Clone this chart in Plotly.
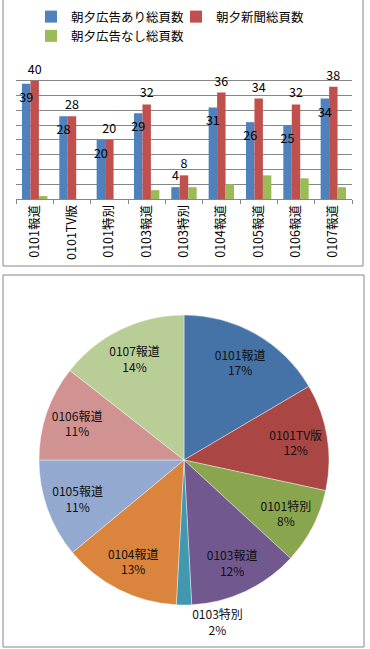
import plotly.graph_objects as go

# ---- data ----
categories = ["0101報道", "0101TV版", "0101特別", "0103報道", "0103特別",
              "0104報道", "0105報道", "0106報道", "0107報道"]
ads_pages = [39, 28, 20, 29, 4, 31, 26, 25, 34]        # 朝夕広告あり総頁数
total_pages = [40, 28, 20, 32, 8, 36, 34, 32, 38]      # 朝夕新聞総頁数
no_ads_pages = [1, 0, 0, 3, 4, 5, 8, 7, 4]             # 朝夕広告なし総頁数
series_names = ["朝夕広告あり総頁数", "朝夕新聞総頁数", "朝夕広告なし総頁数"]

bar_colors = ["#4F81BD", "#C0504D", "#9BBB59"]
pie_colors = ["#4572A7", "#AA4643", "#89A54E", "#71588F", "#4198AF",
              "#DB843D", "#93A9CF", "#D19392", "#B9CD96"]

W, H = 370, 649
FONT = "Noto Sans CJK JP"


def px_x(v):
    return v / W


def px_y(v):
    return 1 - v / H


fig = go.Figure()

fig.add_trace(go.Bar(
    x=categories, y=ads_pages, name=series_names[0], offsetgroup="a",
    marker=dict(color=bar_colors[0], line=dict(width=0)),
    xaxis="x", yaxis="y",
))
fig.add_trace(go.Bar(
    x=categories, y=total_pages, name=series_names[1], offsetgroup="b",
    marker=dict(color=bar_colors[1], line=dict(width=0)),
    text=total_pages, textposition="outside",
    textangle=0, textfont=dict(size=12.5, color="#000000"),
    cliponaxis=False, xaxis="x", yaxis="y",
))
fig.add_trace(go.Bar(
    x=categories, y=no_ads_pages, name=series_names[2], offsetgroup="c",
    marker=dict(color=bar_colors[2], line=dict(width=0)),
    xaxis="x", yaxis="y",
))

bar_label_pos = ["inside"] * len(categories)
bar_label_pos[4] = "outside"   # bar too short to hold its label

# labels of the first series, drawn on top of the neighbouring bars
fig.add_trace(go.Bar(
    x=categories, y=ads_pages, name=series_names[0], offsetgroup="a",
    marker=dict(color="rgba(0,0,0,0)", line=dict(width=0)),
    text=ads_pages, textposition=bar_label_pos, insidetextanchor="end",
    textangle=0, textfont=dict(size=12.5, color="#000000"),
    cliponaxis=False, showlegend=False, hoverinfo="skip",
    xaxis="x", yaxis="y",
))

pie_domain = dict(x=[px_x(39), px_x(329)], y=[px_y(605), px_y(315)])

fig.add_trace(go.Pie(
    labels=categories, values=ads_pages,
    marker=dict(colors=pie_colors, line=dict(color="rgba(255,255,255,0.5)", width=0.8)),
    sort=False, direction="clockwise", rotation=0,
    textinfo="none", showlegend=False,
    domain=pie_domain,
))

positions = ["inside"] * len(categories)
positions[4] = "outside"

# transparent ring carrying the labels further out, as in the original
fig.add_trace(go.Pie(
    labels=categories, values=ads_pages, hole=0.56,
    marker=dict(colors=["rgba(0,0,0,0)"] * len(categories), line=dict(width=0)),
    sort=False, direction="clockwise", rotation=0,
    texttemplate="%{label}<br>%{percent:.0%}",
    textposition=positions, insidetextorientation="horizontal",
    textfont=dict(size=12, color="#111111", family=FONT),
    showlegend=False, hoverinfo="skip",
    domain=pie_domain,
))

fig.update_layout(
    width=W, height=H,
    margin=dict(l=0, r=0, t=0, b=0),
    paper_bgcolor="white", plot_bgcolor="white",
    font=dict(family=FONT, size=12, color="#000000"),
    barmode="group", bargap=0.32, bargroupgap=0,
    uniformtext=dict(minsize=12, mode="show"),
    xaxis=dict(
        domain=[px_x(16), px_x(352)], anchor="y",
        showline=True, linecolor="#868686", linewidth=1,
        ticks="outside", tickson="boundaries", ticklen=4, tickcolor="#868686",
        tickangle=-90, tickfont=dict(size=12.5, family=FONT),
        showgrid=False,
    ),
    yaxis=dict(
        domain=[px_y(199), px_y(66)], anchor="x",
        range=[0, 45], dtick=5,
        showgrid=True, gridcolor="#868686", gridwidth=1,
        showticklabels=False, showline=False, zeroline=False, ticks="",
    ),
    legend=dict(
        orientation="h", x=px_x(31), y=px_y(2), xanchor="left", yanchor="top",
        font=dict(size=12.5, family=FONT), bgcolor="rgba(0,0,0,0)",
        traceorder="normal", itemwidth=30, entrywidth=100, entrywidthmode="pixels",
    ),
    shapes=[
        dict(type="rect", xref="paper", yref="paper",
             x0=px_x(3), x1=px_x(363), y0=px_y(266), y1=px_y(-2),
             line=dict(color="#888888", width=1)),
        dict(type="rect", xref="paper", yref="paper",
             x0=px_x(3), x1=px_x(364), y0=px_y(647), y1=px_y(275),
             line=dict(color="#888888", width=1)),
    ],
)

fig.write_html("out.html")
